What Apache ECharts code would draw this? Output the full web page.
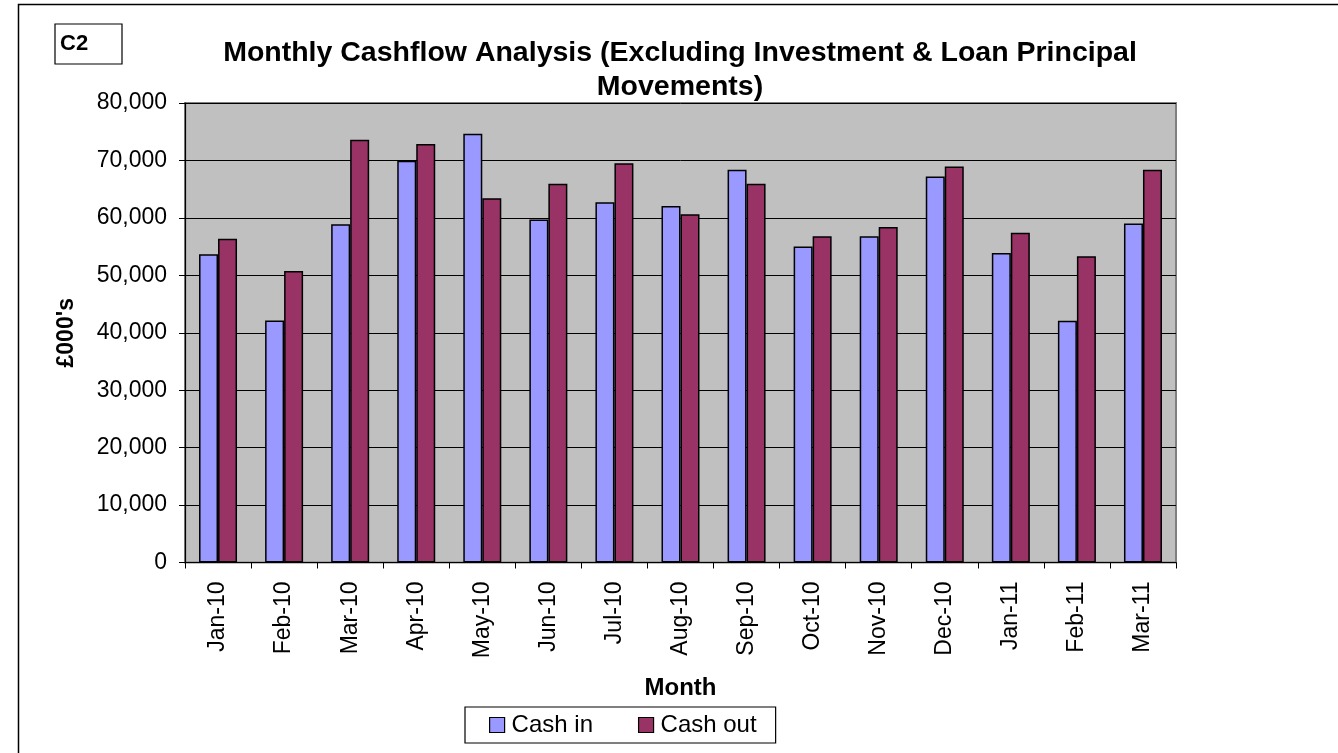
<!DOCTYPE html>
<html>
<head>
<meta charset="utf-8">
<script src="https://cdn.jsdelivr.net/npm/echarts@6/dist/echarts.min.js"></script>
<style>
html,body{margin:0;padding:0;background:#fff;}
#chart{width:1338px;height:753px;}
</style>
</head>
<body>
<div id="chart"></div>
<script>
const months = ['Jan-10','Feb-10','Mar-10','Apr-10','May-10','Jun-10','Jul-10','Aug-10','Sep-10','Oct-10','Nov-10','Dec-10','Jan-11','Feb-11','Mar-11'];
const cashIn = [53650, 42150, 58900, 69950, 74650, 59700, 62700, 62050, 68400, 55000, 56800, 67200, 53900, 42100, 59000];
const cashOut = [56350, 50750, 73600, 72850, 63400, 65950, 69500, 60650, 65950, 56800, 58400, 68950, 57400, 53300, 68400];
const yTicks = [0, 10000, 20000, 30000, 40000, 50000, 60000, 70000, 80000];
const titleLines = ['Monthly Cashflow Analysis (Excluding Investment & Loan Principal', 'Movements)'];

const FONT = '"Liberation Sans", Arial, sans-serif';
const chart = echarts.init(document.getElementById('chart'), null, {renderer: 'canvas'});
const fmt = v => v.toLocaleString('en-US');

chart.setOption({
  animation: false,
  textStyle: {fontFamily: FONT},
  graphic: [
    {type: 'rect', left: 16, top: 2, shape: {x: 0, y: 0, width: 1340, height: 770},
     style: {fill: 'none', stroke: '#000', lineWidth: 1.5}, z: 0},
    {type: 'rect', shape: {x: 55, y: 24, width: 67, height: 40},
     style: {fill: '#fff', stroke: '#000', lineWidth: 1.2}, z: 10},
    {type: 'text', x: 60, y: 44, style: {text: 'C2', font: 'bold 22px ' + FONT, fill: '#000', textVerticalAlign: 'middle'}, z: 11},
    {type: 'text', x: 680, y: 53, style: {text: titleLines[0], font: 'bold 28.5px ' + FONT, fill: '#000', textAlign: 'center', textVerticalAlign: 'middle'}, z: 11},
    {type: 'text', x: 680, y: 87, style: {text: titleLines[1], font: 'bold 28.5px ' + FONT, fill: '#000', textAlign: 'center', textVerticalAlign: 'middle'}, z: 11}
  ],
  grid: {
    left: 185, right: 162, top: 103, bottom: 190.5,
    show: true, backgroundColor: '#C0C0C0', borderColor: '#808080', borderWidth: 2
  },
  legend: {
    data: ['Cash in', 'Cash out'],
    left: 465, top: 707,
    padding: [6, 19, 6, 24],
    itemWidth: 15, itemHeight: 15, itemGap: 45,
    icon: 'rect',
    borderColor: '#000', borderWidth: 1.2,
    backgroundColor: '#fff',
    itemStyle: {borderColor: '#000', borderWidth: 1.2},
    textStyle: {fontSize: 24, color: '#000', fontFamily: FONT, padding: [0, 0, 0, 2]}
  },
  xAxis: {
    type: 'category',
    data: months,
    name: 'Month', nameLocation: 'middle', nameGap: 114,
    nameTextStyle: {fontSize: 24, fontWeight: 'bold', color: '#000', fontFamily: FONT},
    axisLine: {lineStyle: {color: '#000', width: 1.2}},
    axisTick: {show: true, alignWithLabel: false, length: 6, lineStyle: {color: '#000'}},
    axisLabel: {rotate: 90, fontSize: 23, color: '#000', margin: 19, fontFamily: FONT},
    splitLine: {show: false}
  },
  yAxis: {
    type: 'value', min: 0, max: 80000, interval: 10000,
    name: "£000's", nameLocation: 'middle', nameGap: 107,
    nameTextStyle: {fontSize: 23, fontWeight: 'bold', color: '#000', fontFamily: FONT},
    axisLine: {show: true, lineStyle: {color: '#000', width: 1.2}},
    axisTick: {show: true, length: 6, lineStyle: {color: '#000'}},
    axisLabel: {fontSize: 23, color: '#000', margin: 18, fontFamily: FONT,
      formatter: v => yTicks.includes(v) ? fmt(v) : ''},
    splitLine: {show: true, lineStyle: {color: '#000', width: 1}}
  },
  series: [
    {name: 'Cash in', type: 'bar', data: cashIn, barWidth: 19, barGap: '0%',
     itemStyle: {color: '#9999FF', borderColor: '#000', borderWidth: 1.5}},
    {name: 'Cash out', type: 'bar', data: cashOut, barWidth: 19, barGap: '0%',
     itemStyle: {color: '#993366', borderColor: '#000', borderWidth: 1.5}}
  ]
});
</script>
</body>
</html>
